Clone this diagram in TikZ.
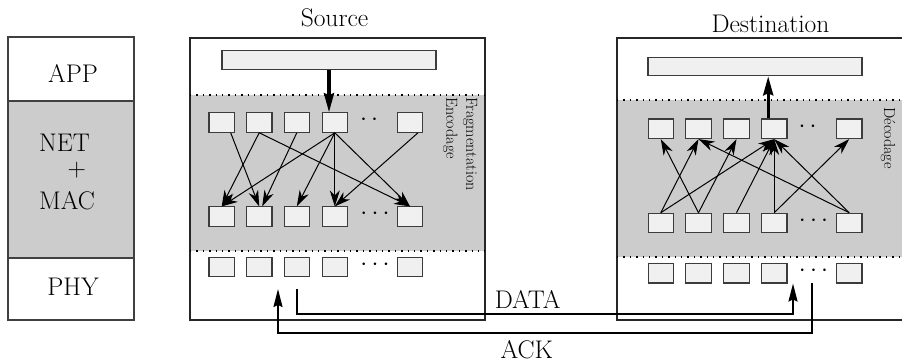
\documentclass[tikz,border=0pt]{standalone}
\usepackage{fontspec}
\usetikzlibrary{arrows.meta}
\definecolor{netgray}{RGB}{204,204,204}
\definecolor{pktfill}{RGB}{240,240,240}
\definecolor{pktline}{RGB}{60,60,60}
\begin{document}
\begin{tikzpicture}[x=1pt,y=-1pt,
  big/.style={font=\fontsize{25.5}{30}\selectfont, inner sep=0pt, anchor=base},
  side/.style={font=\fontsize{16}{20}\selectfont, inner sep=0pt, rotate=-90, anchor=north west, align=left},
  pkt/.style={draw=pktline, fill=pktfill, line width=1.1pt, minimum width=25.5pt, minimum height=19.5pt, inner sep=0pt},
  bar/.style={draw=pktline, fill=pktfill, line width=1.1pt, minimum width=214pt, minimum height=18.5pt, inner sep=0pt},
  frame/.style={draw=black!85, line width=1.2pt},
  sep/.style={line width=1.4pt, dash pattern=on 1.4pt off 5pt},
  link/.style={-{Stealth[length=16pt,width=10pt,inset=5pt]}, line width=1pt},
  flow/.style={-{Stealth[length=18pt,width=9pt,inset=2pt]}, line width=1.8pt},
  push/.style={-{Stealth[length=19pt,width=10pt,inset=2pt]}, line width=3.2pt},
  dotsn/.style={font=\fontsize{25.5}{30}\selectfont, inner sep=0pt, anchor=base}
]
\clip (0,0) rectangle (902,363);
\fill[white] (0,0) rectangle (902,363);

% ---------- layer stack ----------
\fill[netgray] (8,101) rectangle (134,258);
\draw[frame, draw=black!75] (8,37) rectangle (134,320);
\draw[frame, draw=black!75] (8,101) -- (134,101);
\draw[frame, draw=black!75] (8,258) -- (134,258);
\node[big] (app) at (73,82.3) {APP};
\node[big, anchor=base west] (net) at (39,152) {NET};
\node[big, anchor=center] (plus) at (76.7,170) {+};
\node[big, anchor=base west] (mac) at (39,210) {MAC};
\node[big] (phy) at (73,296) {PHY};

% ---------- source ----------
\fill[netgray] (190,95) rectangle (485,251);
\draw[frame] (190,38) rectangle (485,320);
\draw[sep] (190,95) -- (485,95);
\draw[sep] (190,251) -- (485,251);
\node[big] (srclbl) at (334.5,27) {Source};
\node[side] (fraglbl) at (477.5,97) {Fragmentation\\Encodage};
\node[bar] (sbar) at (329,60) {};
\foreach \i/\x in {1/221.7,2/259.2,3/296.8,4/334.8,6/410}{
  \node[pkt] (s1\i) at (\x,122.5) {};
  \node[pkt] (s2\i) at (\x,216.7) {};
  \node[pkt] (s3\i) at (\x,267) {};
}
\node[dotsn] (sd1) at (369,125.4) {$\cdotp\cdotp$};
\node[dotsn] (sd2) at (375,219.4) {$\cdotp\cdotp\cdotp$};
\node[dotsn] (sd3) at (375,270.4) {$\cdotp\cdotp\cdotp$};
\draw[push] (sbar.south) -- (sbar.south |- s14.north);
\draw[link] ([xshift=9pt]s11.south) -- (s22.north);
\draw[link] (s12.south) -- (s21.north);
\draw[link] (s12.south) -- (s26.north);
\draw[link] (s13.south) -- ([xshift=3pt]s22.north);
\draw[link] (s14.south) -- (s21.north);
\draw[link] (s14.south) -- (s23.north);
\draw[link] (s14.south) -- (s24.north);
\draw[link] (s14.south) -- (s26.north);
\draw[link] ([xshift=8pt]s16.south) -- (s24.north);

% ---------- destination ----------
\fill[netgray] (617,100) rectangle (912,257);
\draw[frame] (617,38) rectangle (912,320);
\draw[sep] (617,100) -- (912,100);
\draw[sep] (617,257) -- (912,257);
\node[big] (dstlbl) at (770.5,32.7) {Destination};
\node[side] (declbl) at (895.5,107) {Décodage};
\node[bar] (dbar) at (755,66.5) {};
\foreach \i/\x in {1/660.8,2/698.5,3/736.5,4/774.2,6/849.2}{
  \node[pkt] (d1\i) at (\x,128.8) {};
  \node[pkt] (d2\i) at (\x,223) {};
  \node[pkt] (d3\i) at (\x,273.3) {};
}
\node[dotsn] (dd1) at (807.5,132.4) {$\cdotp\cdotp$};
\node[dotsn] (dd2) at (813.5,226.4) {$\cdotp\cdotp\cdotp$};
\node[dotsn] (dd3) at (813.5,276.4) {$\cdotp\cdotp\cdotp$};
\draw[push] ([xshift=-6pt]d14.north) -- ([xshift=-6pt]d14.north |- dbar.south);
\draw[link] (d22.north) -- (d11.south);
\draw[link] (d21.north) -- (d12.south);
\draw[link] (d26.north) -- (d12.south);
\draw[link] (d22.north) -- (d13.south);
\draw[link] (d21.north) -- (d14.south);
\draw[link] (d23.north) -- (d14.south);
\draw[link] (d24.north) -- (d14.south);
\draw[link] (d26.north) -- (d14.south);
\draw[link] (d24.north) -- (d16.south);

% ---------- DATA / ACK ----------
\coordinate (dataend) at (793,283.5);
\coordinate (ackstart) at (812,283.5);
\coordinate (ackend) at (278,289);
\draw[flow] ([yshift=-12pt]s33.south) -- ++(0,25) -| (dataend);
\draw[flow] (ackstart) -- ++(0,49.5) -| (ackend);
\node[big] (datalbl) at (527.7,308.3) {DATA};
\node[big] (acklbl) at (526.7,358) {ACK};
\end{tikzpicture}
\end{document}
